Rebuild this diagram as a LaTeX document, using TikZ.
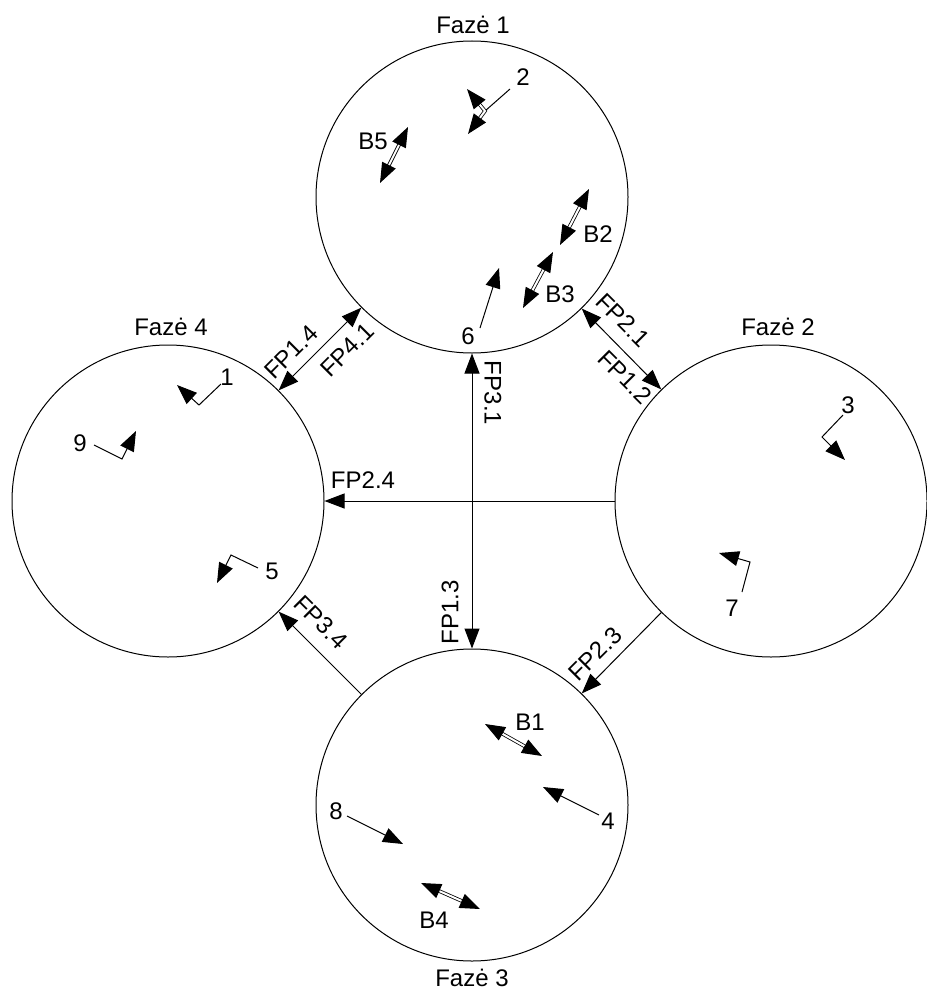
\documentclass[tikz,border=0pt]{standalone}
\usepackage{fontspec}
\setmainfont{Liberation Sans}
\usetikzlibrary{arrows.meta,calc}
\begin{document}
\begin{tikzpicture}[x=1pt,y=-1pt,
  >={Triangle[length=20pt,width=15pt]},
  phase/.style={circle,draw,line width=1pt,minimum size=312pt,inner sep=0pt},
  lbl/.style={inner sep=0pt,font=\fontsize{24}{28}\selectfont},
  conn/.style={line width=1pt},
  shaft/.style={line width=0.8pt,double,double distance=2pt,shorten <=13pt,shorten >=13pt},
  head/.style={line width=1pt,->},
  callout/.style={line width=1pt,->}
]
\useasboundingbox (0,0) rectangle (926,990);
% phases
\node[phase] (c1) at (472,197) {};
\node[phase] (c2) at (771,501) {};
\node[phase] (c3) at (472,805) {};
\node[phase] (c4) at (168,501) {};
\node[lbl] (f1) at (473,25) {Fazė 1};
\node[lbl] (f2) at (778,327) {Fazė 2};
\node[lbl] (f3) at (472,978) {Fazė 3};
\node[lbl] (f4) at (171,327) {Fazė 4};
% connectors
\draw[conn,<->] (c1) -- (c4);
\draw[conn,<->] (c1) -- (c2);
\draw[conn,<->] (c1) -- (c3);
\draw[conn,->] (c2) -- (c4);
\draw[conn,->] (c2) -- (c3);
\draw[conn,->] (c3) -- (c4);
% connector labels
\node[lbl,rotate=45] (l14) at (291,352) {FP1.4};
\node[lbl,rotate=45] (l41) at (347,350) {FP4.1};
\node[lbl,rotate=-45] (l21) at (623,320) {FP2.1};
\node[lbl,rotate=-45] (l12) at (625,377) {FP1.2};
\node[lbl,rotate=-90] (l31) at (493,393) {FP3.1};
\node[lbl,rotate=90] (l13) at (450,612) {FP1.3};
\node[lbl] (l24) at (363,480) {FP2.4};
\node[lbl,rotate=45] (l23) at (595,654) {FP2.3};
\node[lbl,rotate=-45] (l34) at (321,622) {FP3.4};
% phase 1 content
\node[lbl] (n2) at (523,77) {2};
\coordinate (n2a) at (510,89);
\coordinate (n2j) at (485,111);
\coordinate (n2t1) at (467,89);
\coordinate (n2t2) at (468,134);
\draw[conn] (n2a) -- (n2j);
\draw[line width=0.8pt,double,double distance=2pt] ($(n2j)!10pt!(n2t1)$) -- (n2j) -- ($(n2j)!10pt!(n2t2)$);
\draw[head] ($(n2t1)!18pt!(n2j)$) -- (n2t1);
\draw[head] ($(n2t2)!18pt!(n2j)$) -- (n2t2);
\node[lbl] (b5) at (373,141) {B5};
\coordinate (b5a) at (380,183); \coordinate (b5b) at (408,127);
\draw[shaft] (b5a) -- (b5b);
\draw[head] ($(b5a)!20pt!(b5b)$) -- (b5a);
\draw[head] ($(b5b)!20pt!(b5a)$) -- (b5b);
\node[lbl] (b2) at (598,234) {B2};
\coordinate (b2a) at (560,245); \coordinate (b2b) at (589,189);
\draw[shaft] (b2a) -- (b2b);
\draw[head] ($(b2a)!20pt!(b2b)$) -- (b2a);
\draw[head] ($(b2b)!20pt!(b2a)$) -- (b2b);
\node[lbl] (b3) at (560,294) {B3};
\coordinate (b3a) at (523,308); \coordinate (b3b) at (553,252);
\draw[shaft] (b3a) -- (b3b);
\draw[head] ($(b3a)!20pt!(b3b)$) -- (b3a);
\draw[head] ($(b3b)!20pt!(b3a)$) -- (b3b);
\node[lbl] (n6) at (468,336) {6};
\coordinate (n6a) at (480,328); \coordinate (n6b) at (499,268);
\draw[callout] (n6a) -- (n6b);
% phase 4 content
\node[lbl] (n1) at (227,377) {1};
\coordinate (n1a) at (221,384); \coordinate (n1j) at (199,405); \coordinate (n1t) at (177,385);
\draw[callout] (n1a) -- (n1j) -- (n1t);
\node[lbl] (n9) at (80,443) {9};
\coordinate (n9a) at (94,445); \coordinate (n9j) at (122,459); \coordinate (n9t) at (136,431);
\draw[callout] (n9a) -- (n9j) -- (n9t);
\node[lbl] (n5) at (272,571) {5};
\coordinate (n5a) at (258,568); \coordinate (n5j) at (231,555); \coordinate (n5t) at (217,583);
\draw[callout] (n5a) -- (n5j) -- (n5t);
% phase 2 content
\node[lbl] (n3) at (848,405) {3};
\coordinate (n3a) at (843,415); \coordinate (n3j) at (822,437); \coordinate (n3t) at (845,460);
\draw[callout] (n3a) -- (n3j) -- (n3t);
\node[lbl] (n7) at (732,608) {7};
\coordinate (n7a) at (742,592); \coordinate (n7j) at (750,562); \coordinate (n7t) at (719,553);
\draw[callout] (n7a) -- (n7j) -- (n7t);
% phase 3 content
\node[lbl] (b1) at (530,722) {B1};
\coordinate (b1a) at (485,724); \coordinate (b1b) at (542,756);
\draw[shaft] (b1a) -- (b1b);
\draw[head] ($(b1a)!20pt!(b1b)$) -- (b1a);
\draw[head] ($(b1b)!20pt!(b1a)$) -- (b1b);
\node[lbl] (n4) at (608,821) {4};
\coordinate (n4a) at (599,815); \coordinate (n4t) at (543,787);
\draw[callout] (n4a) -- (n4t);
\node[lbl] (n8) at (336,811) {8};
\coordinate (n8a) at (347,816); \coordinate (n8t) at (403,844);
\draw[callout] (n8a) -- (n8t);
\node[lbl] (b4) at (434,920) {B4};
\coordinate (b4a) at (421,883); \coordinate (b4b) at (480,909);
\draw[shaft] (b4a) -- (b4b);
\draw[head] ($(b4a)!20pt!(b4b)$) -- (b4a);
\draw[head] ($(b4b)!20pt!(b4a)$) -- (b4b);
\end{tikzpicture}
\end{document}
